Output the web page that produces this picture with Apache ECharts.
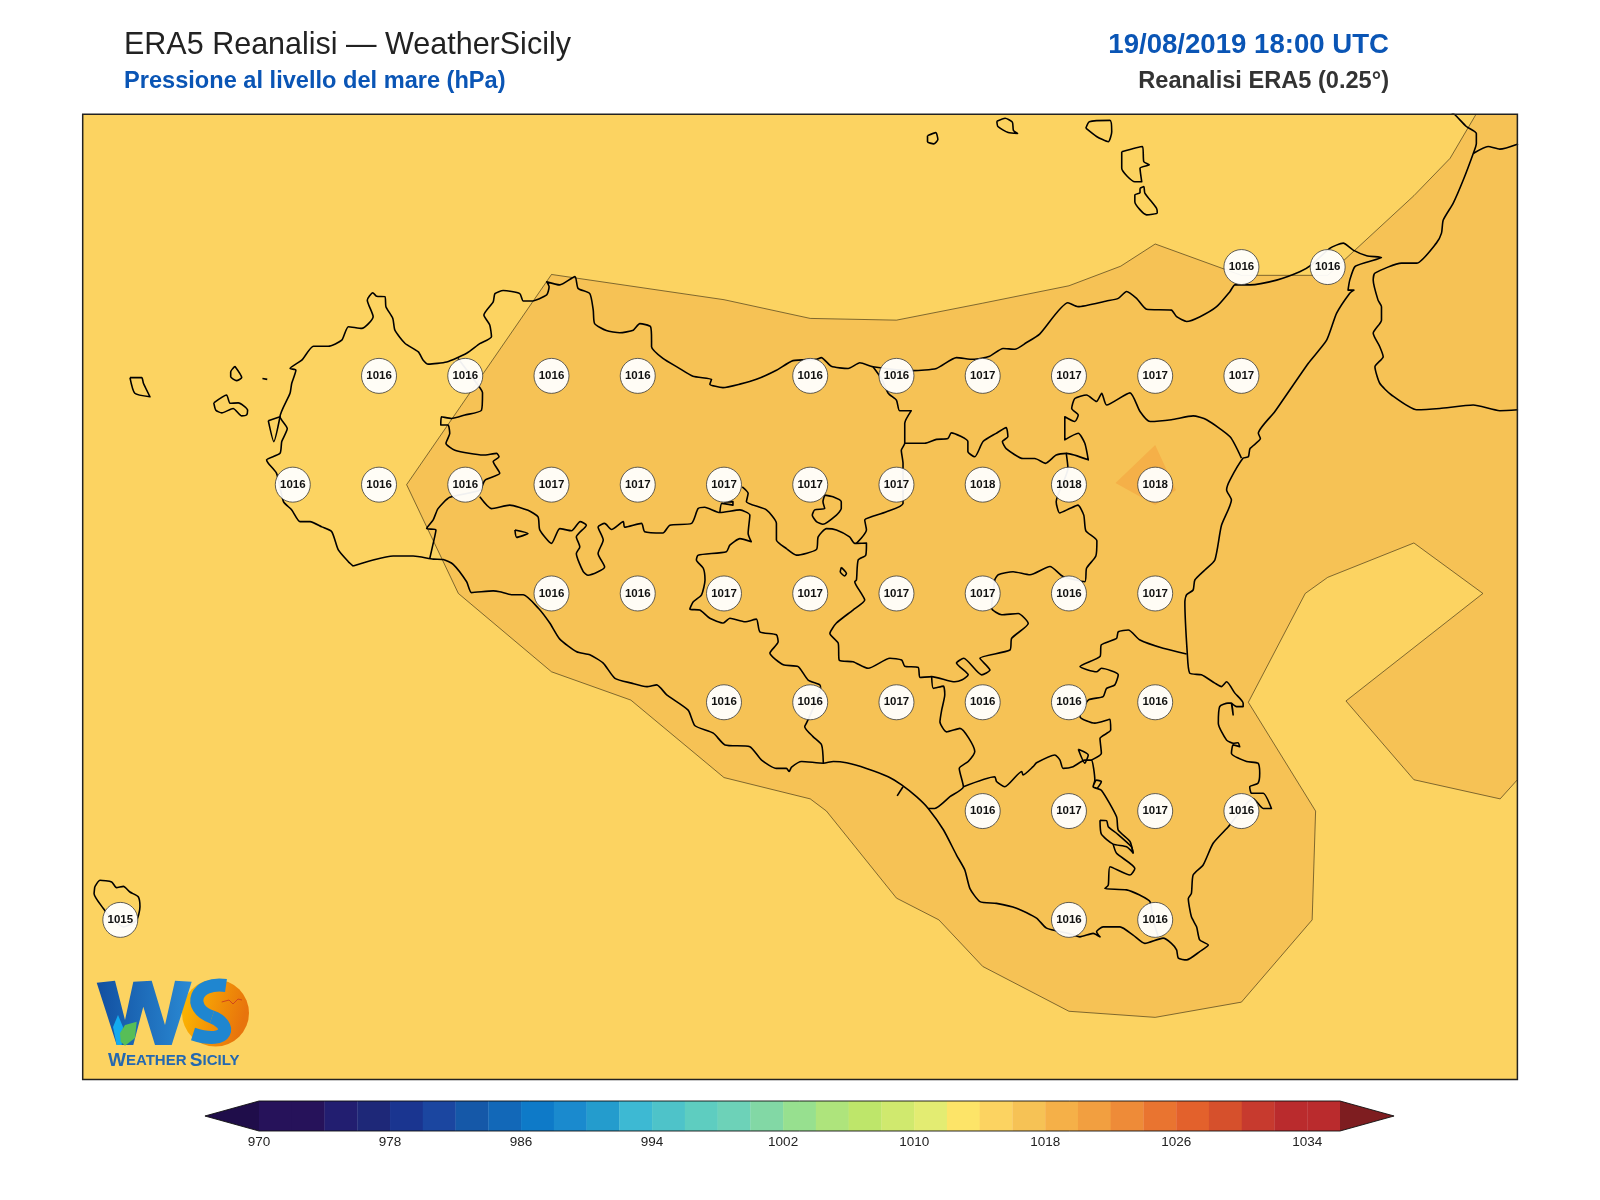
<!DOCTYPE html>
<html>
<head>
<meta charset="utf-8">
<title>ERA5 Reanalisi - WeatherSicily</title>
<script src="https://cdn.jsdelivr.net/npm/echarts@6/dist/echarts.min.js"></script>
<style>
    html, body { margin: 0; padding: 0; background: #fff; }
    #chart { width: 1600px; height: 1200px; }
</style>
</head>
<body>
<div id="chart"></div>
<script>
const lonRange = [11.891, 16.05];
const latRange = [36.383, 38.601];

// grid points [lon, lat, hPa]
const stations = [
    [15.25, 38.25, 1016], [15.5, 38.25, 1016],
    [12.75, 38, 1016], [13, 38, 1016], [13.25, 38, 1016], [13.5, 38, 1016], [14, 38, 1016], [14.25, 38, 1016],
    [14.5, 38, 1017], [14.75, 38, 1017], [15, 38, 1017], [15.25, 38, 1017],
    [12.5, 37.75, 1016], [12.75, 37.75, 1016], [13, 37.75, 1016], [13.25, 37.75, 1017], [13.5, 37.75, 1017],
    [13.75, 37.75, 1017], [14, 37.75, 1017], [14.25, 37.75, 1017], [14.5, 37.75, 1018], [14.75, 37.75, 1018], [15, 37.75, 1018],
    [13.25, 37.5, 1016], [13.5, 37.5, 1016], [13.75, 37.5, 1017], [14, 37.5, 1017], [14.25, 37.5, 1017], [14.5, 37.5, 1017],
    [14.75, 37.5, 1016], [15, 37.5, 1017],
    [13.75, 37.25, 1016], [14, 37.25, 1016], [14.25, 37.25, 1017], [14.5, 37.25, 1016], [14.75, 37.25, 1016], [15, 37.25, 1016],
    [14.5, 37, 1016], [14.75, 37, 1017], [15, 37, 1017], [15.25, 37, 1016],
    [14.75, 36.75, 1016], [15, 36.75, 1016],
    [12, 36.75, 1015]
];

// contour of the 1016 hPa band
const contour1016 = [
    [12.83, 37.75], [13.25, 38.233], [13.75, 38.175], [14, 38.132], [14.25, 38.128], [14.5, 38.167], [14.75, 38.207],
    [14.9, 38.252], [15, 38.303], [15.25, 38.231], [15.5, 38.231], [15.75, 38.414], [15.855, 38.5], [15.93, 38.601],
    [16.05, 38.601], [16.05, 37.072], [16, 37.028], [15.75, 37.072], [15.553, 37.253], [15.95, 37.5], [15.75, 37.616],
    [15.5, 37.537], [15.435, 37.5], [15.27, 37.25], [15.465, 37], [15.455, 36.75], [15.25, 36.561], [15, 36.526],
    [14.75, 36.54], [14.5, 36.643], [14.373, 36.75], [14.25, 36.8], [14.047, 37], [14, 37.028], [13.75, 37.077],
    [13.48, 37.255], [13.25, 37.32], [12.98, 37.5], [12.83, 37.75]
];
const contour1018 = [[14.885, 37.754], [15, 37.841], [15.06, 37.738], [15, 37.703]];

const sicilyCoast = [
    [12.675, 37.563], [12.661, 37.573], [12.632, 37.6], [12.613, 37.642], [12.584, 37.653], [12.55, 37.665], [12.521, 37.665],
    [12.497, 37.692], [12.473, 37.711], [12.453, 37.776], [12.429, 37.799], [12.424, 37.807], [12.463, 37.822], [12.468, 37.849],
    [12.484, 37.879], [12.463, 37.906], [12.492, 37.96], [12.497, 37.983], [12.509, 38.013], [12.492, 38.017], [12.526, 38.036],
    [12.56, 38.068], [12.603, 38.068], [12.642, 38.082], [12.661, 38.113], [12.7, 38.109], [12.733, 38.136], [12.716, 38.174],
    [12.732, 38.191], [12.743, 38.183], [12.767, 38.182], [12.77, 38.159], [12.79, 38.132], [12.796, 38.105], [12.825, 38.075],
    [12.864, 38.055], [12.878, 38.036], [12.893, 38.027], [12.946, 38.032], [13.004, 38.052], [13.042, 38.074], [13.076, 38.09],
    [13.071, 38.117], [13.054, 38.14], [13.081, 38.17], [13.086, 38.189], [13.11, 38.196], [13.158, 38.189], [13.168, 38.172],
    [13.192, 38.172], [13.236, 38.186], [13.243, 38.205], [13.236, 38.216], [13.274, 38.209], [13.318, 38.228], [13.327, 38.201],
    [13.361, 38.189], [13.371, 38.151], [13.375, 38.12], [13.409, 38.104], [13.448, 38.099], [13.487, 38.105], [13.506, 38.12],
    [13.537, 38.113], [13.54, 38.082], [13.54, 38.067], [13.573, 38.04], [13.617, 38.019], [13.66, 37.999], [13.714, 37.992],
    [13.709, 37.981], [13.747, 37.973], [13.796, 37.981], [13.844, 37.992], [13.902, 38.013], [13.95, 38.035], [14.018, 38.038],
    [14.032, 38.042], [14.061, 38.022], [14.11, 38.017], [14.144, 38.03], [14.182, 38.021], [14.298, 38.012], [14.366, 38.017],
    [14.424, 38.042], [14.472, 38.038], [14.52, 38.045], [14.559, 38.063], [14.593, 38.061], [14.626, 38.076], [14.665, 38.096],
    [14.747, 38.168], [14.776, 38.159], [14.859, 38.172], [14.893, 38.178], [14.917, 38.194], [14.946, 38.178], [14.975, 38.153],
    [15.047, 38.151], [15.062, 38.136], [15.091, 38.125], [15.13, 38.136], [15.178, 38.159], [15.217, 38.194], [15.231, 38.209],
    [15.275, 38.209], [15.352, 38.22], [15.419, 38.239], [15.453, 38.255], [15.506, 38.293], [15.545, 38.305], [15.574, 38.289],
    [15.613, 38.276], [15.656, 38.272], [15.613, 38.261], [15.579, 38.251], [15.564, 38.22], [15.559, 38.197], [15.576, 38.197],
    [15.564, 38.19], [15.526, 38.144], [15.497, 38.082], [15.444, 38.029], [15.347, 37.918], [15.299, 37.868], [15.305, 37.856],
    [15.275, 37.833], [15.27, 37.814], [15.255, 37.811], [15.217, 37.761], [15.207, 37.738], [15.221, 37.715], [15.192, 37.656],
    [15.173, 37.577], [15.144, 37.554], [15.115, 37.531], [15.11, 37.508], [15.091, 37.497], [15.086, 37.481], [15.093, 37.363],
    [15.1, 37.317], [15.134, 37.313], [15.173, 37.294], [15.192, 37.286], [15.207, 37.297], [15.231, 37.271], [15.255, 37.248],
    [15.255, 37.24], [15.236, 37.24], [15.221, 37.248], [15.226, 37.221], [15.221, 37.248], [15.211, 37.248], [15.187, 37.24],
    [15.183, 37.202], [15.207, 37.163], [15.226, 37.156], [15.24, 37.157], [15.245, 37.148], [15.226, 37.152], [15.221, 37.133],
    [15.265, 37.114], [15.298, 37.11], [15.303, 37.087], [15.298, 37.064], [15.274, 37.056], [15.279, 37.041], [15.313, 37.041],
    [15.337, 37.006], [15.313, 37.006], [15.284, 37.029], [15.212, 36.964], [15.168, 36.926], [15.139, 36.876], [15.11, 36.853],
    [15.105, 36.811], [15.096, 36.799], [15.105, 36.757], [15.12, 36.734], [15.129, 36.704], [15.154, 36.692], [15.129, 36.677],
    [15.091, 36.658], [15.067, 36.662], [15.062, 36.681], [15.047, 36.696], [15.023, 36.708], [14.97, 36.696], [14.936, 36.715],
    [14.898, 36.734], [14.849, 36.734], [14.83, 36.723], [14.84, 36.711], [14.82, 36.719], [14.782, 36.711], [14.748, 36.719],
    [14.685, 36.731], [14.656, 36.754], [14.598, 36.777], [14.54, 36.788], [14.492, 36.792], [14.463, 36.822], [14.448, 36.865],
    [14.424, 36.899], [14.386, 36.957], [14.342, 37.006], [14.308, 37.033], [14.265, 37.06], [14.226, 37.079], [14.163, 37.098],
    [14.105, 37.111], [14.067, 37.114], [14.038, 37.11], [13.975, 37.114], [13.946, 37.101], [13.939, 37.091], [13.931, 37.098],
    [13.902, 37.098], [13.859, 37.117], [13.825, 37.148], [13.753, 37.152], [13.719, 37.179], [13.666, 37.196], [13.646, 37.232],
    [13.584, 37.267], [13.555, 37.29], [13.526, 37.286], [13.482, 37.294], [13.434, 37.305], [13.4, 37.34], [13.361, 37.359],
    [13.323, 37.366], [13.274, 37.395], [13.245, 37.432], [13.212, 37.466], [13.168, 37.497], [13.134, 37.497], [13.1, 37.504],
    [13.081, 37.506], [13.018, 37.502], [13.004, 37.527], [12.965, 37.567], [12.936, 37.578], [12.907, 37.579], [12.849, 37.586],
    [12.791, 37.586], [12.733, 37.577], [12.675, 37.563]
];

const calabriaCoast = [
    [15.859, 38.605], [15.869, 38.6], [15.902, 38.573], [15.931, 38.557], [15.931, 38.534], [15.922, 38.511], [15.893, 38.45],
    [15.864, 38.397], [15.835, 38.358], [15.83, 38.328], [15.815, 38.305], [15.758, 38.259], [15.714, 38.259], [15.637, 38.236],
    [15.632, 38.22], [15.646, 38.174], [15.656, 38.159], [15.656, 38.128], [15.632, 38.098], [15.651, 38.067], [15.661, 38.044],
    [15.637, 38.021], [15.651, 37.983], [15.685, 37.956], [15.758, 37.922], [15.825, 37.925], [15.922, 37.933], [15.999, 37.92],
    [16.052, 37.922]
];
const calabriaBorder = [[15.922, 38.511], [15.965, 38.527], [15.999, 38.521], [16.052, 38.533]];

const trapaniBorder = [
    [12.979, 38.04], [13.033, 37.983], [13.05, 37.961], [13.047, 37.921], [12.999, 37.91], [12.96, 37.902], [12.931, 37.906],
    [12.929, 37.887], [12.95, 37.887], [12.955, 37.868], [12.944, 37.845], [12.97, 37.829], [13.052, 37.818], [13.091, 37.822],
    [13.098, 37.814], [13.081, 37.803], [13.1, 37.776], [13.057, 37.76], [13.042, 37.737], [12.955, 37.721], [12.921, 37.695],
    [12.907, 37.669], [12.888, 37.649], [12.915, 37.646], [12.907, 37.615], [12.897, 37.58]
];
const agrigentoBorder = [
    [13.042, 37.722], [13.076, 37.695], [13.129, 37.703], [13.182, 37.691], [13.211, 37.676], [13.216, 37.646], [13.25, 37.615],
    [13.274, 37.649], [13.308, 37.644], [13.333, 37.665], [13.351, 37.657], [13.322, 37.63], [13.332, 37.607], [13.322, 37.592],
    [13.342, 37.55], [13.356, 37.542], [13.404, 37.561], [13.385, 37.592], [13.4, 37.623], [13.385, 37.653], [13.404, 37.661],
    [13.424, 37.647], [13.458, 37.665], [13.462, 37.652], [13.511, 37.661], [13.52, 37.642], [13.573, 37.639], [13.593, 37.657],
    [13.656, 37.661], [13.675, 37.695], [13.694, 37.698], [13.738, 37.686], [13.796, 37.692], [13.825, 37.68], [13.82, 37.638],
    [13.829, 37.619], [13.796, 37.626], [13.767, 37.611], [13.757, 37.596], [13.675, 37.588], [13.67, 37.577], [13.69, 37.558],
    [13.695, 37.531], [13.685, 37.497], [13.661, 37.481], [13.651, 37.464], [13.68, 37.462], [13.709, 37.443], [13.748, 37.432],
    [13.767, 37.443], [13.811, 37.435], [13.844, 37.441], [13.854, 37.412], [13.902, 37.405], [13.907, 37.389], [13.883, 37.363],
    [13.922, 37.336], [13.965, 37.332], [13.994, 37.301], [14.028, 37.29], [14.03, 37.282], [14.004, 37.228], [13.989, 37.202],
    [13.984, 37.194], [14.008, 37.171], [14.033, 37.152], [14.038, 37.11]
];
const agrigentoSpur = [[13.738, 37.686], [13.744, 37.707], [13.776, 37.703], [13.776, 37.711], [13.75, 37.71]];
const caltanissettaBorder = [
    [13.803, 37.745], [13.82, 37.73], [13.815, 37.711], [13.873, 37.692], [13.902, 37.661], [13.902, 37.623], [13.931, 37.603],
    [13.96, 37.588], [14.018, 37.601], [14.023, 37.63], [14.047, 37.649], [14.076, 37.646], [14.114, 37.63], [14.129, 37.615],
    [14.163, 37.616], [14.161, 37.588], [14.139, 37.577], [14.134, 37.531], [14.129, 37.527], [14.148, 37.5], [14.158, 37.485],
    [14.124, 37.462], [14.076, 37.432], [14.057, 37.408], [14.081, 37.386], [14.084, 37.347], [14.124, 37.343], [14.168, 37.328],
    [14.231, 37.351], [14.265, 37.347], [14.274, 37.333], [14.313, 37.33], [14.318, 37.307], [14.352, 37.309], [14.419, 37.297],
    [14.439, 37.301], [14.458, 37.313], [14.424, 37.34], [14.445, 37.351], [14.497, 37.313], [14.521, 37.324], [14.492, 37.351],
    [14.579, 37.37], [14.584, 37.397], [14.632, 37.431], [14.603, 37.454], [14.555, 37.451], [14.526, 37.466], [14.535, 37.531],
    [14.545, 37.543], [14.588, 37.55], [14.637, 37.543], [14.695, 37.562], [14.733, 37.539], [14.796, 37.527], [14.801, 37.558],
    [14.828, 37.586], [14.831, 37.621], [14.799, 37.644], [14.793, 37.68], [14.776, 37.703], [14.752, 37.695], [14.723, 37.685],
    [14.713, 37.711], [14.747, 37.788], [14.742, 37.823]
];
const palermoBorder = [
    [14.182, 38.021], [14.206, 37.994], [14.226, 37.96], [14.25, 37.944], [14.259, 37.92], [14.293, 37.92], [14.274, 37.891],
    [14.274, 37.845], [14.264, 37.829], [14.269, 37.799], [14.269, 37.787], [14.269, 37.707], [14.221, 37.688], [14.177, 37.676],
    [14.158, 37.669], [14.163, 37.646], [14.134, 37.615]
];
const messinaBorder = [
    [14.274, 37.845], [14.332, 37.845], [14.366, 37.854], [14.399, 37.856], [14.409, 37.869], [14.457, 37.849], [14.457, 37.826],
    [14.477, 37.814], [14.501, 37.849], [14.539, 37.868], [14.568, 37.881], [14.573, 37.86], [14.557, 37.849], [14.568, 37.833],
    [14.617, 37.81], [14.651, 37.81], [14.682, 37.799], [14.713, 37.818], [14.743, 37.822], [14.806, 37.807], [14.796, 37.845],
    [14.777, 37.868], [14.738, 37.853], [14.738, 37.906], [14.767, 37.895], [14.777, 37.91], [14.758, 37.925], [14.767, 37.948],
    [14.801, 37.956], [14.83, 37.941], [14.845, 37.96], [14.859, 37.933], [14.927, 37.961], [14.956, 37.918], [14.985, 37.895],
    [15.047, 37.899], [15.11, 37.908], [15.149, 37.899], [15.217, 37.86], [15.25, 37.811]
];
const ragusaWestBorder = [
    [14.352, 37.309], [14.357, 37.282], [14.386, 37.287], [14.39, 37.267], [14.381, 37.232], [14.376, 37.205], [14.395, 37.182],
    [14.434, 37.19], [14.477, 37.137], [14.458, 37.114], [14.432, 37.098], [14.444, 37.056], [14.405, 37.033], [14.361, 37.006],
    [14.342, 37.006]
];
const ragusaNorthBorder = [
    [14.444, 37.056], [14.535, 37.079], [14.54, 37.068], [14.564, 37.056], [14.613, 37.091], [14.617, 37.083], [14.646, 37.102],
    [14.656, 37.111], [14.709, 37.129], [14.724, 37.117], [14.733, 37.098], [14.762, 37.102], [14.796, 37.117], [14.815, 37.117],
    [14.825, 37.071], [14.82, 37.056], [14.83, 37.052], [14.844, 37.068], [14.83, 37.071], [14.82, 37.056], [14.844, 37.048],
    [14.888, 36.987], [14.893, 36.956], [14.927, 36.93], [14.936, 36.903]
];
const ragusaLoop = [
    [14.84, 36.979], [14.859, 36.978], [14.864, 36.964], [14.888, 36.949], [14.931, 36.918], [14.936, 36.904], [14.917, 36.918],
    [14.878, 36.924], [14.844, 36.947], [14.84, 36.979]
];
const ragusaEastBorder = [
    [14.878, 36.924], [14.888, 36.903], [14.941, 36.868], [14.927, 36.853], [14.869, 36.872], [14.864, 36.83], [14.854, 36.822],
    [14.917, 36.819], [14.955, 36.807], [14.985, 36.792], [14.994, 36.75], [15.009, 36.711]
];
const ragusaTriangle = [[14.777, 37.142], [14.796, 37.11], [14.806, 37.129], [14.777, 37.142]];
const cataniaBorder = [
    [15.091, 37.361], [15.023, 37.374], [14.956, 37.393], [14.922, 37.416], [14.893, 37.412], [14.888, 37.397], [14.844, 37.382],
    [14.84, 37.355], [14.782, 37.332], [14.83, 37.32], [14.844, 37.328], [14.893, 37.313], [14.883, 37.29], [14.859, 37.282],
    [14.849, 37.263], [14.806, 37.255], [14.782, 37.217], [14.825, 37.202], [14.869, 37.211], [14.871, 37.186], [14.84, 37.167],
    [14.844, 37.133], [14.815, 37.117]
];
const enclave = [
    [14.042, 37.726], [14.066, 37.722], [14.09, 37.711], [14.09, 37.695], [14.076, 37.68], [14.037, 37.659], [14.018, 37.665],
    [14.006, 37.68], [14.013, 37.692], [14.042, 37.695], [14.037, 37.711], [14.042, 37.726]
];
const pergusaLake = [[14.09, 37.56], [14.105, 37.546], [14.1, 37.54], [14.087, 37.55], [14.09, 37.56]];
const agrigentoIsle = [[13.144, 37.646], [13.182, 37.638], [13.149, 37.629], [13.144, 37.646]];
const southTick = [[14.269, 37.056], [14.252, 37.035]];
const stagnone = [[12.429, 37.897], [12.463, 37.906], [12.445, 37.849], [12.429, 37.897]];

const marettimo = [[12.028, 37.996], [12.062, 37.996], [12.067, 37.983], [12.086, 37.952], [12.042, 37.96], [12.028, 37.996]];
const favignana = [
    [12.271, 37.938], [12.308, 37.956], [12.318, 37.937], [12.342, 37.938], [12.369, 37.921], [12.366, 37.91], [12.352, 37.908],
    [12.327, 37.925], [12.294, 37.915], [12.277, 37.921], [12.271, 37.938]
];
const levanzo = [[12.332, 38.022], [12.352, 37.996], [12.337, 37.989], [12.32, 37.998], [12.32, 38.009], [12.332, 38.022]];
const formica = [[12.412, 37.994], [12.426, 37.992]];
const pantelleria = [
    [11.926, 36.826], [11.924, 36.81], [11.951, 36.776], [11.97, 36.757], [12.009, 36.734], [12.047, 36.749], [12.057, 36.78],
    [12.052, 36.803], [12.028, 36.814], [12.009, 36.827], [11.989, 36.824], [11.975, 36.837], [11.941, 36.841], [11.926, 36.826]
];
const filicudi = [[14.34, 38.552], [14.364, 38.559], [14.37, 38.543], [14.358, 38.533], [14.34, 38.538], [14.34, 38.552]];
const salina = [
    [14.541, 38.585], [14.565, 38.592], [14.586, 38.583], [14.589, 38.564], [14.601, 38.557], [14.574, 38.559], [14.544, 38.573],
    [14.541, 38.585]
];
const panarea = [[14.799, 38.569], [14.809, 38.584], [14.869, 38.587], [14.874, 38.561], [14.864, 38.538], [14.83, 38.55], [14.799, 38.569]];
const lipari = [
    [14.903, 38.515], [14.963, 38.527], [14.967, 38.492], [14.983, 38.485], [14.956, 38.477], [14.961, 38.446], [14.941, 38.446],
    [14.903, 38.477], [14.903, 38.515]
];
const vulcano = [
    [14.956, 38.431], [14.967, 38.435], [14.97, 38.42], [15.004, 38.385], [15.006, 38.374], [14.975, 38.37], [14.941, 38.4],
    [14.941, 38.416], [14.956, 38.421], [14.956, 38.431]
];

const outlines = [
    sicilyCoast, calabriaCoast, calabriaBorder, trapaniBorder, agrigentoBorder, agrigentoSpur, caltanissettaBorder, palermoBorder,
    messinaBorder, ragusaWestBorder, ragusaNorthBorder, ragusaLoop, ragusaEastBorder, ragusaTriangle, cataniaBorder, enclave,
    pergusaLake, agrigentoIsle, southTick, stagnone, marettimo, favignana, levanzo, formica, pantelleria, filicudi, salina,
    panarea, lipari, vulcano
];

// colour bar
const levels = [
    970, 972, 974, 976, 978, 980, 982, 984, 986, 988, 990, 992, 994, 996, 998, 1000, 1002, 1004, 1006, 1008, 1010, 1012, 1014,
    1016, 1018, 1020, 1022, 1024, 1026, 1028, 1030, 1032, 1034, 1036
];
const levelColors = [
    '#26125a', '#26125a', '#221e70', '#1e2878', '#1a3590', '#1b46a0', '#1558a8', '#1268b8', '#0e7ac8', '#1a8ace', '#249ccd',
    '#3db9d3', '#4ec3c9', '#5ecdc0', '#6dd2b8', '#82d8a5', '#97e08f', '#aee47c', '#bee66a', '#d0e96e', '#e3ec72', '#fde468',
    '#fcd361', '#f6c255', '#f5b048', '#f29f40', '#ee8b38', '#e97430', '#e3612c', '#d6502c', '#c73a2e', '#ba2b2d', '#ba2b2d'
];
const colorbarTicks = [970, 978, 986, 994, 1002, 1010, 1018, 1026, 1034];
const underTip = 966.7;
const overTip = 1039.3;
const underColor = '#1f0d4a';
const overColor = '#7e1d20';

const fontName = '"Liberation Sans", Arial, sans-serif';
const blueText = '#0a55b5';

const polygonSeries = (points, color, borderColor, z) => ({
    type: 'custom',
    xAxisIndex: 0,
    yAxisIndex: 0,
    clip: true,
    silent: true,
    z: z,
    data: [0],
    renderItem: (params, api) => ({
        type: 'polygon',
        shape: { points: points.map((p) => api.coord(p)) },
        style: { fill: color, stroke: borderColor, lineWidth: borderColor ? 0.7 : 0 }
    })
});

const outlineSeries = (path) => ({
    type: 'line',
    xAxisIndex: 0,
    yAxisIndex: 0,
    data: path,
    symbol: 'none',
    silent: true,
    clip: true,
    smooth: 0.2,
    z: 3,
    lineStyle: { color: '#000', width: 1.6, join: 'round' }
});

const frameSeries = {
    type: 'custom',
    xAxisIndex: 0,
    yAxisIndex: 0,
    clip: false,
    silent: true,
    z: 6,
    data: [0],
    renderItem: (params, api) => {
        const a = api.coord([lonRange[0], latRange[1]]);
        const b = api.coord([lonRange[1], latRange[0]]);
        return {
            type: 'rect',
            shape: { x: a[0], y: a[1], width: b[0] - a[0], height: b[1] - a[1] },
            style: { fill: 'none', stroke: '#222', lineWidth: 1.5 }
        };
    }
};

const stationSeries = {
    type: 'scatter',
    xAxisIndex: 0,
    yAxisIndex: 0,
    data: stations,
    symbolSize: 35,
    silent: true,
    z: 5,
    itemStyle: { color: 'rgba(255,255,255,0.94)', borderColor: '#3a3a3a', borderWidth: 0.8, opacity: 1 },
    label: {
        show: true,
        position: 'inside',
        formatter: (p) => String(p.value[2]),
        color: '#111',
        fontFamily: fontName,
        fontWeight: 'bold',
        fontSize: 11.5
    }
};

const colorbarBands = {
    type: 'custom',
    xAxisIndex: 1,
    yAxisIndex: 1,
    silent: true,
    clip: false,
    z: 2,
    data: levelColors.map((c, i) => [levels[i], levels[i + 1]]),
    renderItem: (params, api) => {
        const a = api.coord([api.value(0), 1]);
        const b = api.coord([api.value(1), 0]);
        return {
            type: 'rect',
            shape: { x: a[0], y: a[1], width: b[0] - a[0] + 0.3, height: b[1] - a[1] },
            style: { fill: levelColors[params.dataIndex], stroke: null }
        };
    }
};

const colorbarTips = {
    type: 'custom',
    xAxisIndex: 1,
    yAxisIndex: 1,
    silent: true,
    clip: false,
    z: 3,
    data: [0],
    renderItem: (params, api) => {
        const lo = levels[0];
        const hi = levels[levels.length - 1];
        const under = [[lo, 1], [underTip, 0.5], [lo, 0]].map((p) => api.coord(p));
        const over = [[hi, 1], [overTip, 0.5], [hi, 0]].map((p) => api.coord(p));
        const outline = [[lo, 1], [hi, 1], [overTip, 0.5], [hi, 0], [lo, 0], [underTip, 0.5]].map((p) => api.coord(p));
        return {
            type: 'group',
            children: [
                { type: 'polygon', shape: { points: under }, style: { fill: underColor } },
                { type: 'polygon', shape: { points: over }, style: { fill: overColor } },
                { type: 'polygon', shape: { points: outline }, style: { fill: 'none', stroke: '#111', lineWidth: 0.9 } }
            ]
        };
    }
};

const logoGraphic = [
    {
        type: 'circle',
        shape: { cx: 215.5, cy: 1013, r: 33.5 },
        style: {
            fill: new echarts.graphic.LinearGradient(0, 0, 1, 0.3, [
                { offset: 0, color: '#ffbe00' },
                { offset: 1, color: '#e8740c' }
            ])
        },
        z: 10
    },
    {
        type: 'polygon',
        shape: {
            points: [
                [96.7, 982.7], [115, 980.7], [125, 1020], [133.3, 981.7], [151.7, 980.7], [165, 1025], [175, 980.7], [191.7, 981.7],
                [171.7, 1045], [155, 1045], [143.3, 1006.7], [133.3, 1045], [116.7, 1045]
            ]
        },
        style: {
            fill: new echarts.graphic.LinearGradient(0, 0, 1, 0, [
                { offset: 0, color: '#124fa0' },
                { offset: 1, color: '#2a8ad4' }
            ])
        },
        z: 11
    },
    {
        type: 'polygon',
        shape: { points: [[113, 1027], [118, 1015], [123, 1027], [121.7, 1045], [116.7, 1045]] },
        style: { fill: '#12abef' },
        z: 12
    },
    {
        type: 'polygon',
        shape: { points: [[120, 1033], [125, 1025], [136.7, 1021.7], [135, 1038], [125, 1045.7], [120.7, 1041.7]] },
        style: { fill: '#57be57' },
        z: 13
    },
    {
        type: 'bezierCurve',
        shape: { x1: 226, y1: 985.5, cpx1: 195, cpy1: 981, cpx2: 186, cpy2: 1008, x2: 212, y2: 1017 },
        style: { fill: 'none', stroke: '#1f86d0', lineWidth: 13, lineCap: 'butt' },
        z: 12
    },
    {
        type: 'bezierCurve',
        shape: { x1: 212, y1: 1017, cpx1: 232, cpy1: 1024, cpx2: 230, cpy2: 1046, x2: 193, y2: 1034 },
        style: { fill: 'none', stroke: '#1f86d0', lineWidth: 13, lineCap: 'butt' },
        z: 12
    },
    {
        type: 'polyline',
        shape: { points: [[221.7, 1002], [229, 1000], [233, 1004], [238, 999], [242, 1000]] },
        style: { fill: 'none', stroke: '#d0471c', lineWidth: 1 },
        z: 13
    },
    {
        type: 'text',
        x: 108,
        y: 1051,
        z: 13,
        style: {
            text: '{a|W}{b|EATHER} {a|S}{b|ICILY}',
            rich: {
                a: { fontSize: 19, fontWeight: 'bold', fontFamily: fontName, fill: '#2468b0' },
                b: { fontSize: 15, fontWeight: 'bold', fontFamily: fontName, fill: '#2468b0' }
            }
        }
    }
];

const chartOpt = () => ({
    animation: false,
    backgroundColor: '#fff',
    title: [
        {
            text: 'ERA5 Reanalisi — WeatherSicily',
            left: 124,
            top: 30,
            padding: 0,
            textStyle: { fontFamily: fontName, fontSize: 30.5, fontWeight: 'normal', color: '#222' }
        },
        {
            text: 'Pressione al livello del mare (hPa)',
            left: 124,
            top: 69,
            padding: 0,
            textStyle: { fontFamily: fontName, fontSize: 23.6, fontWeight: 'bold', color: blueText }
        },
        {
            text: '19/08/2019 18:00 UTC',
            right: 211,
            top: 31.5,
            padding: 0,
            textStyle: { fontFamily: fontName, fontSize: 27.6, fontWeight: 'bold', color: blueText }
        },
        {
            text: 'Reanalisi ERA5 (0.25°)',
            right: 211,
            top: 69,
            padding: 0,
            textStyle: { fontFamily: fontName, fontSize: 23.6, fontWeight: 'bold', color: '#333' }
        }
    ],
    grid: [
        { left: 82.7, top: 114.3, width: 1434.7, height: 965.3, show: true, backgroundColor: levelColors[22], borderWidth: 0 },
        { left: 259, top: 1101, width: 1081, height: 30 }
    ],
    xAxis: [
        { type: 'value', gridIndex: 0, min: lonRange[0], max: lonRange[1], show: false },
        {
            type: 'value',
            gridIndex: 1,
            min: levels[0],
            max: levels[levels.length - 1],
            interval: 2,
            axisLine: { show: false },
            axisTick: { show: false },
            splitLine: { show: false },
            axisLabel: {
                customValues: colorbarTicks,
                formatter: (value) => String(value),
                margin: 4,
                color: '#222',
                fontFamily: fontName,
                fontSize: 13.5
            }
        }
    ],
    yAxis: [
        { type: 'value', gridIndex: 0, min: latRange[0], max: latRange[1], show: false },
        { type: 'value', gridIndex: 1, min: 0, max: 1, show: false }
    ],
    graphic: logoGraphic,
    series: [
        polygonSeries(contour1016, levelColors[23], 'rgba(30,25,10,0.8)', 1),
        polygonSeries(contour1018, levelColors[24], null, 2),
        ...outlines.map(outlineSeries),
        stationSeries,
        frameSeries,
        colorbarBands,
        colorbarTips
    ]
});

const chart = echarts.init(document.getElementById('chart'), null, { renderer: 'canvas' });
chart.setOption(chartOpt());
</script>
</body>
</html>
